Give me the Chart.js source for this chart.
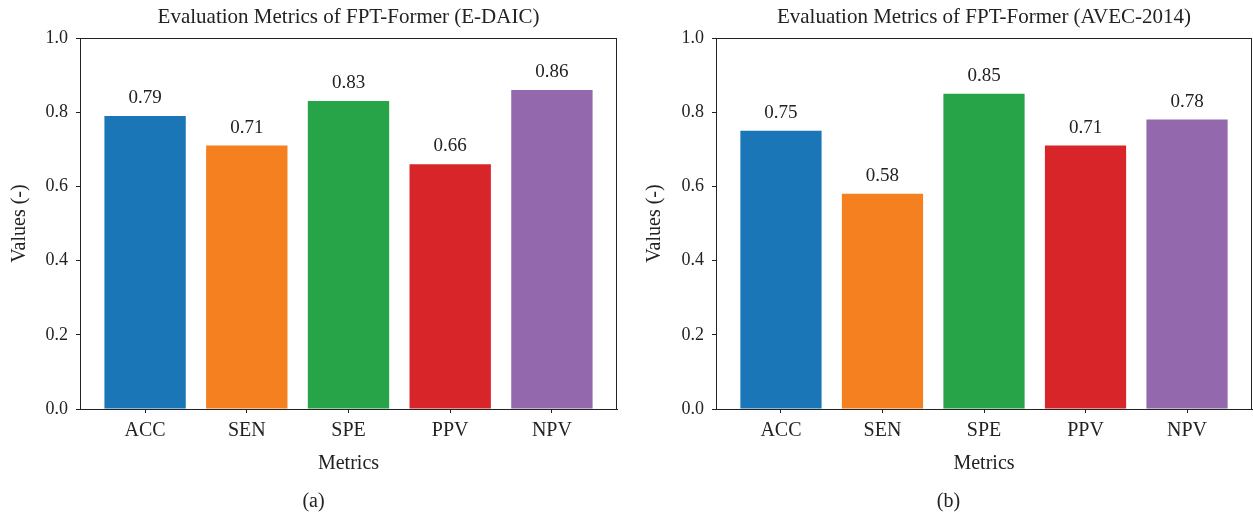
<!DOCTYPE html>
<html>
<head>
<meta charset="utf-8">
<script src="https://cdn.jsdelivr.net/npm/chart.js@4.4.1/dist/chart.umd.min.js"></script>
<style>
  html, body { margin: 0; padding: 0; background: #fff; }
  #wrap { position: relative; width: 1253px; height: 515px; overflow: hidden; }
  .box { position: absolute; top: 0; height: 515px; }
</style>
</head>
<body>
<div id="wrap">
  <div class="box" style="left:0;width:626px;"><canvas id="c1"></canvas></div>
  <div class="box" style="left:626px;width:627px;"><canvas id="c2"></canvas></div>
</div>
<script>
const categories = ['ACC', 'SEN', 'SPE', 'PPV', 'NPV'];
const valuesEDAIC = [0.79, 0.71, 0.83, 0.66, 0.86];
const valuesAVEC = [0.75, 0.58, 0.85, 0.71, 0.78];
const yTicks = [0.0, 0.2, 0.4, 0.6, 0.8, 1.0];
const barColors = ['#1a76b7', '#f5801f', '#27a348', '#d8252a', '#9468ac'];
const titleEDAIC = 'Evaluation Metrics of FPT-Former (E-DAIC)';
const titleAVEC = 'Evaluation Metrics of FPT-Former (AVEC-2014)';

const FONT = "'Liberation Serif', 'DejaVu Serif', serif";
const INK = '#222';

const decorPlugin = {
  id: 'decor',
  afterDatasetsDraw(chart, args, opts) {
    const ctx = chart.ctx;
    const a = chart.chartArea;
    ctx.save();
    // frame
    ctx.strokeStyle = INK;
    ctx.lineWidth = 1;
    ctx.strokeRect(Math.round(a.left) + 0.5, Math.round(a.top) + 0.5,
                   Math.round(a.right - a.left) - 1, Math.round(a.bottom - a.top));
    // value labels
    ctx.fillStyle = INK;
    ctx.font = '19px ' + FONT;
    ctx.textAlign = 'center';
    ctx.textBaseline = 'alphabetic';
    const meta = chart.getDatasetMeta(0);
    const ds = chart.data.datasets[0].data;
    meta.data.forEach((bar, i) => {
      ctx.fillText(ds[i].y.toFixed(2), bar.x, bar.y - 13);
    });
    // title
    ctx.font = '21px ' + FONT;
    ctx.textBaseline = 'middle';
    ctx.fillText(opts.title, (a.left + a.right) / 2, 17);
    // caption
    ctx.font = '20px ' + FONT;
    ctx.fillText(opts.caption, opts.captionX, 502);
    ctx.restore();
  }
};

function makeChart(id, values, title, caption, captionX, yWidth, yTitlePad, padRight) {
  const ctx = document.getElementById(id);
  return new Chart(ctx, {
    type: 'bar',
    data: {
      datasets: [{
        data: categories.map((c, i) => ({ x: i, y: values[i] })),
        backgroundColor: barColors,
        borderWidth: 0,
        categoryPercentage: 1.0,
        barPercentage: 0.8
      }]
    },
    options: {
      responsive: true,
      maintainAspectRatio: false,
      animation: false,
      layout: { padding: { left: 0, right: padRight, top: 38, bottom: 39 } },
      plugins: {
        legend: { display: false },
        tooltip: { enabled: false },
        title: { display: false },
        decor: { title: title, caption: caption, captionX: captionX }
      },
      scales: {
        x: {
          type: 'linear',
          min: -0.64,
          max: 4.64,
          offset: false,
          grid: { display: true, drawOnChartArea: false, drawTicks: true, tickLength: 4, color: INK, offset: false },
          border: { display: true, color: INK, width: 1 },
          afterBuildTicks: (scale) => { scale.ticks = categories.map((c, i) => ({ value: i })); },
          afterFit: (scale) => { scale.height = 67; },
          ticks: {
            autoSkip: false,
            maxRotation: 0,
            padding: 6,
            color: INK,
            font: { family: FONT, size: 20 },
            callback: (v, i) => categories[i]
          },
          title: {
            display: true,
            text: 'Metrics',
            color: INK,
            font: { family: FONT, size: 20 },
            padding: { top: 4, bottom: 0 }
          }
        },
        y: {
          min: 0,
          max: 1,
          grid: { display: true, drawOnChartArea: false, drawTicks: true, tickLength: 4, color: INK },
          border: { display: true, color: INK, width: 1 },
          afterBuildTicks: (scale) => { scale.ticks = yTicks.map(v => ({ value: v })); },
          afterFit: (scale) => { scale.width = yWidth; },
          ticks: {
            padding: 8,
            color: INK,
            font: { family: FONT, size: 18 },
            callback: (v) => Number(v).toFixed(1)
          },
          title: {
            display: true,
            text: 'Values (-)',
            color: INK,
            font: { family: FONT, size: 20 },
            padding: { top: yTitlePad, bottom: 0 }
          }
        }
      }
    },
    plugins: [decorPlugin]
  });
}

makeChart('c1', valuesEDAIC, titleEDAIC, '(a)', 313.5, 80, 8, 9);
makeChart('c2', valuesAVEC, titleAVEC, '(b)', 322.5, 90, 17, 1);
</script>
</body>
</html>
